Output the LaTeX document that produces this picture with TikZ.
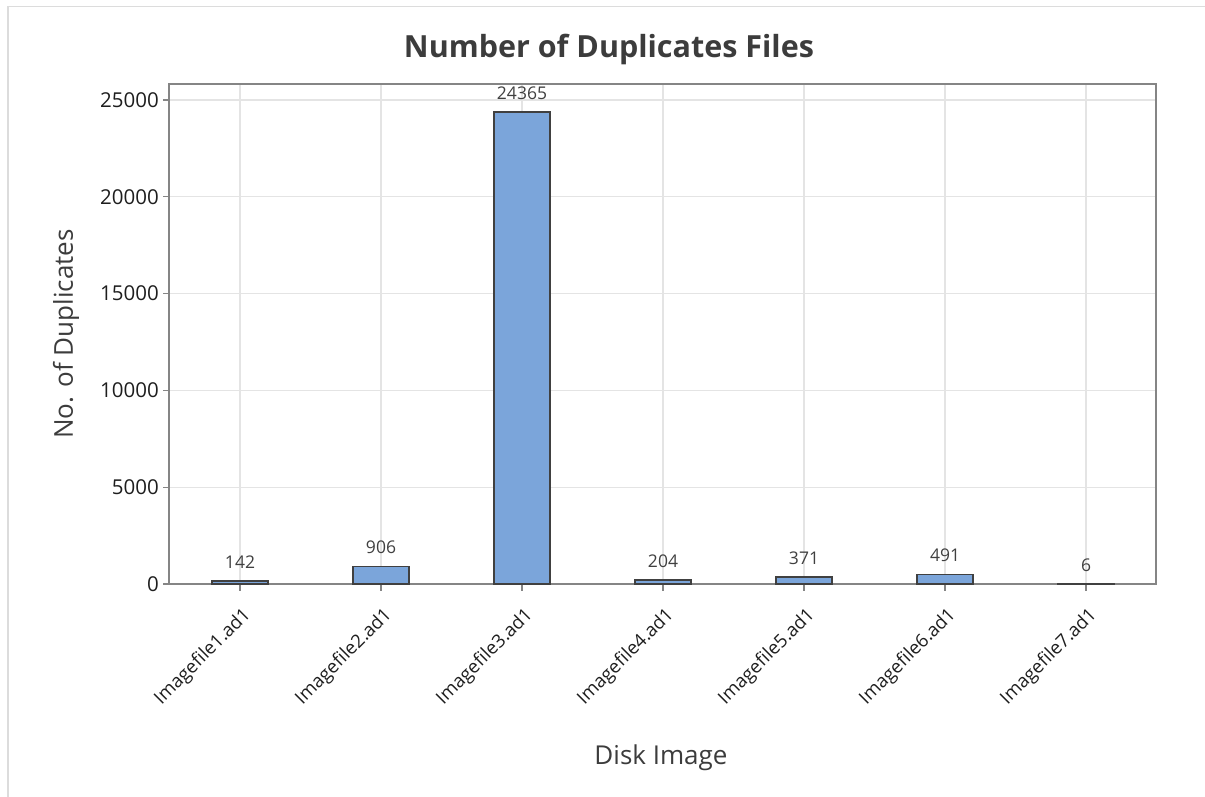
\documentclass[tikz,border=0pt]{standalone}
\usepackage{fontspec}
\setmainfont{Open Sans}
\definecolor{gridc}{HTML}{E4E4E4}
\definecolor{outerc}{HTML}{DCDCDC}
\definecolor{axisc}{HTML}{858585}
\definecolor{barfill}{HTML}{7BA5DA}
\definecolor{baredge}{HTML}{404040}
\definecolor{textc}{HTML}{1E1E1E}
\definecolor{titlec}{HTML}{3C3C3C}
\definecolor{valc}{HTML}{404040}
\tikzset{
  gridline/.style={gridc, line width=1.2pt},
  axisline/.style={axisc, line width=1.5pt},
  tickline/.style={axisc, line width=1.2pt},
  databar/.style={fill=barfill, draw=baredge, line width=1.8pt},
  ticklabel/.style={font=\fontsize{20.5}{24}\selectfont, text=textc, inner sep=0pt},
  vallabel/.style={font=\fontsize{17.5}{21}\selectfont, text=valc, inner sep=0pt},
  catlabel/.style={font=\fontsize{18.5}{22}\selectfont, text=textc, inner sep=0pt, rotate=45, anchor=east},
  axistitle/.style={font=\fontsize{26}{30}\selectfont, text=titlec, inner sep=0pt},
}
\begin{document}
\begin{tikzpicture}[x=1pt, y=-1pt]
\useasboundingbox (0,0) rectangle (1205,797);
% outer panel border
\draw[outerc, line width=1.5pt] (8,797) -- (8,6.5) -- (1205,6.5);
% plot region corners
\coordinate (pl) at (169,84);
\coordinate (pr) at (1156,584);
% horizontal grid lines and value axis ticks (values in thousands)
\foreach \v/\lab in {0/0,5/5000,10/10000,15/15000,20/20000,25/25000} {
  \pgfmathsetmacro{\yy}{584-\v*19.36}
  \ifnum\v>0 \draw[gridline] (169,\yy) -- (1156,\yy); \fi
  \draw[tickline] (163,\yy) -- (169,\yy);
  \node[ticklabel, anchor=east] (y\v) at (159,\yy) {\lab};
}
% vertical grid lines at each category
\foreach \i in {1,...,7} {
  \pgfmathsetmacro{\xx}{240+141*(\i-1)}
  \draw[gridline] (\xx,84) -- (\xx,584);
  \draw[tickline] (\xx,584) -- (\xx,591);
}
% plot frame
\draw[axisline] (pl) rectangle (pr);
% bars with value labels
\foreach \i/\v/\t in {1/0.142/142, 2/0.906/906, 3/24.365/24365, 4/0.204/204, 5/0.371/371, 6/0.491/491, 7/0.006/6} {
  \pgfmathsetmacro{\xx}{240+141*(\i-1)}
  \pgfmathsetmacro{\yy}{584-\v*19.36}
  \draw[databar] (\xx-28,584) rectangle (\xx+28,\yy);
  \node[vallabel] (v\i) at (\xx,\yy-19) {\t};
}
% category labels
\foreach \i in {1,...,7} {
  \pgfmathsetmacro{\xx}{240+141*(\i-1)}
  \node[catlabel] (c\i) at (\xx+8,612) {Imagefile\i.ad1};
}
% titles
\node[font=\fontsize{30.5}{36}\selectfont\bfseries, text=titlec, inner sep=0pt] (title) at (609,49) {Number of Duplicates Files};
\node[axistitle, rotate=90] (ylab) at (66,334) {No. of Duplicates};
\node[axistitle] (xlab) at (661,758) {Disk Image};
\end{tikzpicture}
\end{document}
